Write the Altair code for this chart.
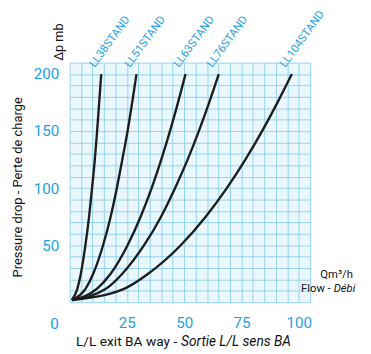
import altair as alt
import pandas as pd

# ---- data ----
series = ["LL38STAND", "LL51STAND", "LL63STAND", "LL76STAND", "LL104STAND"]
dp = [2, 12, 25, 50, 75, 100, 125, 150, 175, 200]
flow_ll38 = [1, 3.4, 4.9, 6.9, 8.5, 9.8, 11.0, 12.0, 12.9, 13.8]
flow_ll51 = [1, 7.0, 10.3, 14.6, 17.9, 20.6, 23.0, 25.3, 27.3, 29.2]
flow_ll63 = [1, 12.0, 17.9, 25.3, 31.0, 35.8, 40.0, 43.8, 47.3, 50.6]
flow_ll76 = [1, 16.0, 23.0, 32.5, 39.9, 46.0, 51.5, 56.4, 60.9, 65.1]
flow_ll104 = [1, 24.0, 34.3, 48.5, 59.4, 68.6, 76.7, 84.0, 90.7, 97.0]
flows = [flow_ll38, flow_ll51, flow_ll63, flow_ll76, flow_ll104]

x_grid = list(range(0, 106, 5))
y_grid = list(range(0, 211, 10))
x_labels = [25, 50, 75, 100]
y_labels = [50, 100, 150, 200]

y_title = "Pressure drop - Perte de charge"
x_title_normal = "L/L exit BA way -"
x_title_italic = "Sortie L/L sens BA"
unit_x = "Qm³/h"
flow_normal = "Flow -"
flow_italic = "Débi"
unit_y = "Δp mb"

BLUE = "#1E9FE2"
FONT = "Roboto"

rows = []
for name, fl in zip(series, flows):
    for q, p in zip(fl, dp):
        rows.append({"series": name, "flow": q, "dp": p})
df = pd.DataFrame(rows)

xs = alt.Scale(domain=[0, 105], nice=False, zero=True)
ys = alt.Scale(domain=[0, 210], nice=False, zero=True)

x_axis = alt.Axis(
    values=x_grid,
    labelExpr="indexof([" + ",".join(str(v) for v in x_labels) + "], datum.value) >= 0 ? datum.label : ''",
    grid=True, gridColor="#93d2ee", gridWidth=1,
    ticks=False, domain=False, labelColor=BLUE, labelFont=FONT, labelFontSize=15.5,
    labelPadding=14, labelOverlap=False, labelFlush=False, title=None,
)
y_axis = alt.Axis(
    values=y_grid,
    labelExpr="indexof([" + ",".join(str(v) for v in y_labels) + "], datum.value) >= 0 ? datum.label : ''",
    grid=True, gridColor="#93d2ee", gridWidth=1,
    ticks=False, domain=False, labelColor=BLUE, labelFont=FONT, labelFontSize=15.5,
    labelPadding=11, labelOverlap=False, labelFlush=False,
    title=y_title, titleFont=FONT, titleFontSize=13.2, titleFontWeight="normal",
    titleColor="#111111", titleAngle=270, titleX=-53, titleY=127,
    titleAlign="center", titleBaseline="middle",
)

X = alt.X("flow:Q", scale=xs, axis=x_axis)
Y = alt.Y("dp:Q", scale=ys, axis=y_axis)

base = alt.Chart(df)

lines = base.mark_line(color="#1c1c1c", strokeWidth=2.4, interpolate="monotone").encode(
    x=X, y=Y, detail="series:N", order="dp:Q",
)

labels = base.transform_filter(alt.datum.dp == 200).mark_text(
    angle=306, align="left", baseline="middle", dx=1, dy=-12,
    color=BLUE, font=FONT, fontSize=11.5,
).encode(x=X, y=Y, text="series:N")

zero_df = pd.DataFrame({"flow": [0], "dp": [0], "t": ["0"]})
zero_lbl = alt.Chart(zero_df).mark_text(
    align="right", baseline="middle", dx=-11, dy=22, color=BLUE, font=FONT, fontSize=15.5,
).encode(x=X, y=Y, text="t:N")


def note(txt, x, y, align="left", italic=False, size=14, color="#111111", angle=0):
    kw = dict(align=align, baseline="middle", font=FONT, fontSize=size, color=color,
              fontStyle="italic" if italic else "normal")
    if angle:
        kw["angle"] = angle
    return alt.Chart(pd.DataFrame({"t": [txt]})).mark_text(**kw).encode(
        x=alt.value(x), y=alt.value(y), text="t:N")


notes = [
    note(x_title_normal, 110, 286, align="right", size=14),
    note(x_title_italic, 114, 286, align="left", italic=True, size=14),
    note(unit_x, 273, 217, align="center", size=11.5),
    note(flow_normal, 267, 232, align="right", size=11.5),
    note(flow_italic, 270, 232, align="left", italic=True, size=11.5),
    note(unit_y, -11, -21, align="center", size=13, angle=270),
]

chart = alt.layer(lines, labels, zero_lbl, *notes).properties(
    width=246, height=245,
    background="white",
    autosize=alt.AutoSizeParams(type="none"),
    padding={"left": 63, "top": 52, "right": 54, "bottom": 48},
).configure_view(fill="#eaf7fd", stroke="transparent")

chart.save("out.html", embed_options={"renderer": "svg", "actions": False})
